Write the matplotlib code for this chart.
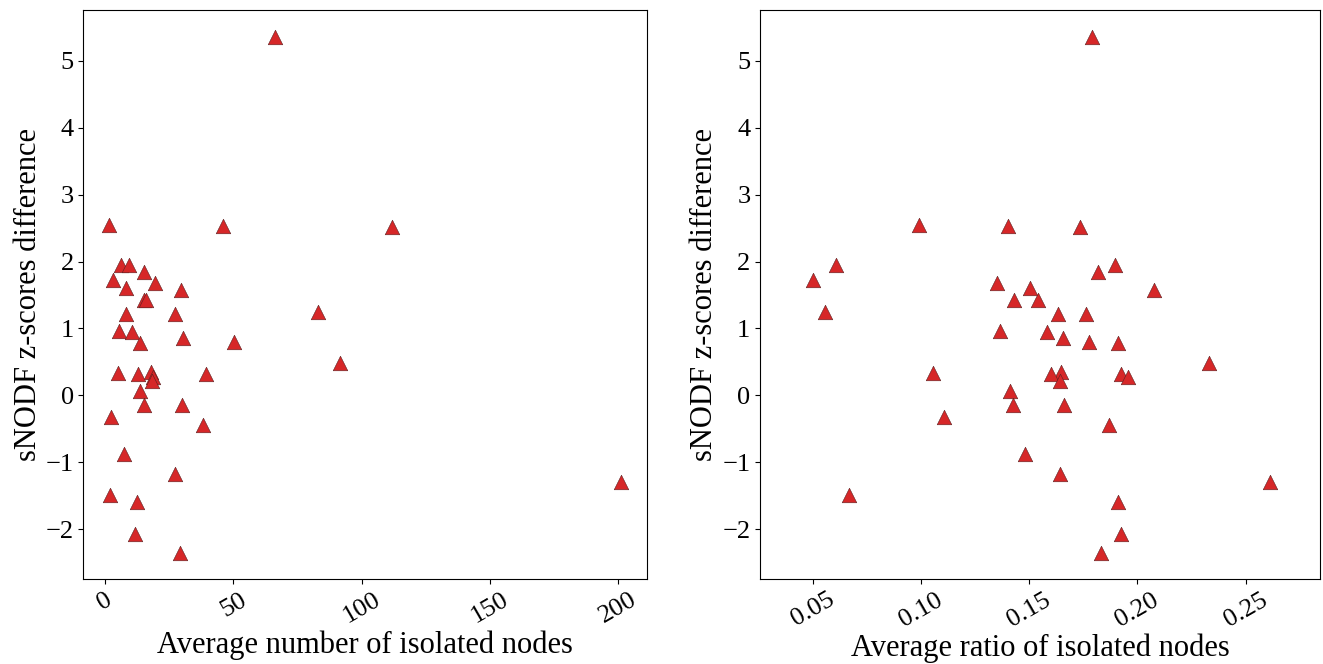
import matplotlib
import matplotlib.pyplot as plt

matplotlib.rcParams['font.family'] = 'Liberation Serif'
matplotlib.rcParams['mathtext.fontset'] = 'stix'

# z-score differences (same for both panels)
z_diff = [5.35, 2.54, 2.53, 2.52, 1.955, 1.945, 1.85, 1.72, 1.675, 1.60,
          1.58, 1.43, 1.42, 1.24, 1.22, 1.21, 0.967, 0.947, 0.85, 0.79,
          0.78, 0.49, 0.35, 0.34, 0.32, 0.32, 0.27, 0.22, 0.06, -0.14,
          -0.145, -0.325, -0.44, -0.875, -1.17, -1.29, -1.49, -1.59, -2.07, -2.36]

# average number of isolated nodes
n_isolated = [66.2, 1.7, 46.1, 111.8, 6.3, 9.5, 15.3, 3.0, 19.5, 8.2,
              29.5, 15.2, 15.9, 82.9, 27.2, 8.2, 5.5, 10.6, 30.5, 50.1,
              13.8, 91.7, 18.0, 5.2, 13.0, 39.5, 18.6, 18.3, 13.6, 15.2,
              29.9, 2.5, 38.3, 7.3, 27.4, 201.1, 1.8, 12.6, 11.8, 29.1]

# average ratio of isolated nodes
r_isolated = [0.1788, 0.0989, 0.1401, 0.1733, 0.0609, 0.1894, 0.1819, 0.0500, 0.1349, 0.1505,
              0.2075, 0.1540, 0.1429, 0.0554, 0.1764, 0.1634, 0.1363, 0.1581, 0.1654, 0.1775,
              0.1912, 0.2329, 0.1646, 0.1056, 0.1602, 0.1924, 0.1956, 0.1642, 0.1409, 0.1426,
              0.1659, 0.1108, 0.1867, 0.1480, 0.1640, 0.2614, 0.0665, 0.1912, 0.1926, 0.1831]

fig = plt.figure(figsize=(13.23, 6.64), dpi=100)
ax1 = fig.add_axes([0.063, 0.128, 0.426, 0.857])
ax2 = fig.add_axes([0.5745, 0.128, 0.4233, 0.857])

for ax, x, xlabel in [(ax1, n_isolated, 'Average number of isolated nodes'),
                      (ax2, r_isolated, 'Average ratio of isolated nodes')]:
    ax.scatter(x, z_diff, marker='^', s=110, c='#d62728', edgecolors='#5a2020', linewidths=0.4)
    ax.set_xlabel(xlabel, fontsize=22, labelpad=2)
    ax.set_ylabel('sNODF z-scores difference', fontsize=22, labelpad=2)
    ax.tick_params(labelsize=19)
    ax.tick_params(axis='x', labelrotation=30)
    ax.set_yticks([-2, -1, 0, 1, 2, 3, 4, 5])
    ax.set_ylim(-2.745, 5.76)

ax1.set_xlim(-8.45, 211.1)
ax1.set_xticks([0, 50, 100, 150, 200])
ax2.set_xlim(0.0256, 0.2844)
ax2.set_xticks([0.05, 0.10, 0.15, 0.20, 0.25])
ax2.set_xticklabels(['0.05', '0.10', '0.15', '0.20', '0.25'])

plt.savefig('out.png', dpi=100)
